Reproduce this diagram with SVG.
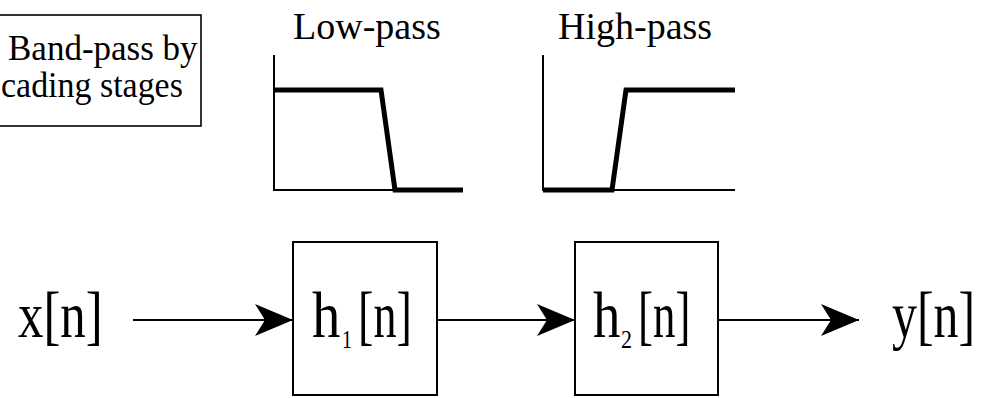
<svg xmlns="http://www.w3.org/2000/svg" width="992" height="398" viewBox="0 0 992 398">
<style>
  .box { fill: #fff; stroke: #000; stroke-width: 2; }
  .axis { fill: none; stroke: #000; stroke-width: 2; }
  .resp { fill: none; stroke: #000; stroke-width: 5; stroke-linejoin: miter; }
  .conn { fill: none; stroke: #000; stroke-width: 2; }
  .lbl { font-size: 38px; }
  .note { font-size: 35px; }
  .big { font-size: 66px; }
  .sub { font-size: 25px; }
</style>
<defs>
  <marker id="arr" markerUnits="userSpaceOnUse" markerWidth="40" markerHeight="34" refX="38" refY="16" orient="auto" overflow="visible">
    <path d="M0,0 L38,16 L0,32 L10,16 Z" fill="#000"/>
  </marker>
</defs>
<rect width="992" height="398" fill="#fff"/>
<g font-family="Liberation Serif, DejaVu Serif, serif" fill="#000">

<g id="note">
  <rect x="-2" y="15" width="203" height="111" fill="#fff" stroke="#000" stroke-width="1.6"/>
  <text class="note" x="8" y="60">Band-pass by</text>
  <text class="note" transform="translate(1,97) scale(0.97,1)">cading stages</text>
</g>

<g id="lowpass">
  <text class="lbl" x="293" y="39">Low-pass</text>
  <path class="axis" d="M274,55 V190 H463"/>
  <path class="resp" d="M274,90 H381 L395,190 H463"/>
</g>

<g id="highpass">
  <text class="lbl" x="558" y="39">High-pass</text>
  <path class="axis" d="M543,55 V190 H735"/>
  <path class="resp" d="M543,190 H612 L626,90 H735"/>
</g>

<g id="input">
  <text class="big" transform="translate(18,337) scale(0.77,1)">x[n]</text>
</g>

<g id="h1">
  <rect class="box" x="293" y="242" width="144" height="153"/>
  <text class="big" transform="translate(312,337) scale(0.86,1)">h</text>
  <text class="sub" transform="translate(342,348) scale(0.8,1)">1</text>
  <text class="big" transform="translate(358,337) scale(0.7,1)">[n]</text>
</g>

<g id="h2">
  <rect class="box" x="575" y="242" width="143" height="153"/>
  <text class="big" transform="translate(593,337) scale(0.83,1)">h</text>
  <text class="sub" transform="translate(621,348) scale(0.88,1)">2</text>
  <text class="big" transform="translate(638,337) scale(0.68,1)">[n]</text>
</g>

<g id="output">
  <text class="big" transform="translate(892,337) scale(0.755,1)">y[n]</text>
</g>
</g>

<g id="connectors">
  <line class="conn" x1="133" y1="320" x2="293" y2="320" marker-end="url(#arr)"/>
  <line class="conn" x1="437" y1="320" x2="575" y2="320" marker-end="url(#arr)"/>
  <line class="conn" x1="718" y1="320" x2="859" y2="320" marker-end="url(#arr)"/>
</g>
</svg>
